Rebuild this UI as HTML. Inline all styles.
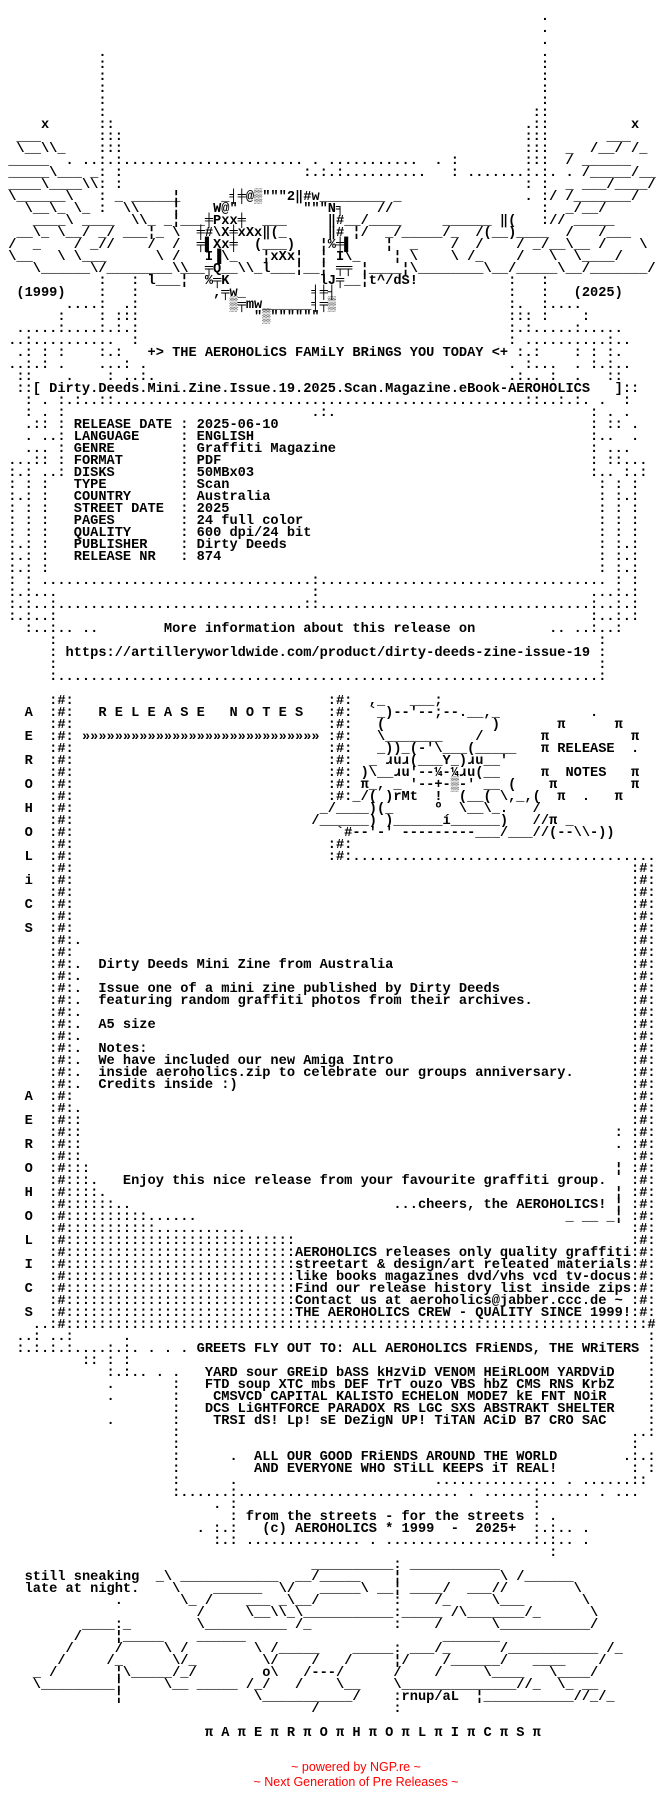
<!DOCTYPE html>
<html><head><meta charset="utf-8">
<style>
html,body{margin:0;padding:0;background:#fff;}
body{width:656px;height:1812px;overflow:hidden;position:relative;font-family:"Liberation Mono","DejaVu Sans Mono",monospace;font-size:13.67px;font-weight:bold;color:#000;}
p{margin:0;height:12px;line-height:12px;position:relative;}
b{position:absolute;top:0;white-space:pre;font-weight:bold;}
.red{position:absolute;left:0;width:712px;text-align:center;color:#f00;font-family:"Liberation Sans",sans-serif;font-weight:normal;font-size:12.5px;line-height:14px;white-space:pre;}
</style></head><body>
<p></p>
<p><b style="left:66ch">.</b></p>
<p><b style="left:66ch">.</b></p>
<p><b style="left:66ch">.</b></p>
<p><b style="left:12ch">.</b><b style="left:66ch">.</b></p>
<p><b style="left:12ch">:</b><b style="left:66ch">:</b></p>
<p><b style="left:12ch">:</b><b style="left:66ch">:</b></p>
<p><b style="left:12ch">:</b><b style="left:66ch">:</b></p>
<p><b style="left:12ch">:</b><b style="left:66ch">:</b></p>
<p><b style="left:12ch">:</b><b style="left:65ch">::</b></p>
<p><b style="left:5ch">x</b><b style="left:12ch">::</b><b style="left:64ch">.::</b><b style="left:77ch">x</b></p>
<p><b style="left:2ch">___</b><b style="left:12ch">:::</b><b style="left:64ch">:::</b><b style="left:74ch">___</b></p>
<p><b style="left:2ch">\__\\_</b><b style="left:12ch">:::</b><b style="left:64ch">:::</b><b style="left:69ch">_  /__/ /_</b></p>
<p><b style="left:1ch">_____</b><b style="left:8ch">. ..:.:...................... . ...........  . :</b><b style="left:64ch">:::</b><b style="left:69ch">/ ______</b></p>
<p><b style="left:1ch">_____\___ _</b><b style="left:12ch">:</b><b style="left:14ch">:</b><b style="left:37ch">:.:.:..........   : .......:.:. . /_____/___</b></p>
<p><b style="left:1ch">____\____\\</b><b style="left:12ch">:</b><b style="left:14ch">:</b><b style="left:64ch">:</b><b style="left:66ch">:</b><b style="left:69ch">_ ___/____/</b></p>
<p><b style="left:1ch">\______\</b><b style="left:12ch">:</b><b style="left:14ch">_ ______</b><b style="left:21ch">¦</b><b style="left:27ch">_╡╪@▒"""2‖#w________ _</b><b style="left:64ch">.</b><b style="left:66ch">:</b><b style="left:67ch">/ /</b><b style="left:70ch">_______/</b></p>
<p><b style="left:3ch">\__\_ \_</b><b style="left:12ch">:</b><b style="left:15ch">\\</b><b style="left:21ch">¦</b><b style="left:26ch">W@"</b><b style="left:37ch">"""N╕</b><b style="left:46ch">//</b><b style="left:66ch">:</b><b style="left:69ch">_/__/</b></p>
<p><b style="left:4ch">____</b><b style="left:8ch">\</b><b style="left:10ch">____</b><b style="left:16ch">\\_</b><b style="left:20ch">_¦___╪Pxx╪</b><b style="left:32ch">___</b><b style="left:40ch">‖#_</b><b style="left:43ch">_/____</b><b style="left:54ch">______</b><b style="left:61ch">‖(</b><b style="left:66ch">:</b><b style="left:67ch">//</b><b style="left:70ch">_____</b></p>
<p><b style="left:2ch">__\_</b><b style="left:7ch">\__/</b><b style="left:12ch">_/</b><b style="left:15ch">___¦_</b><b style="left:21ch">\</b><b style="left:24ch">╪#\X╪xXx‖(_</b><b style="left:40ch">‖#</b><b style="left:43ch">¦/</b><b style="left:47ch">_/_____/_</b><b style="left:58ch">/(__)____</b><b style="left:69ch">/</b><b style="left:73ch">/___</b></p>
<p><b style="left:1ch">/</b><b style="left:4ch">_</b><b style="left:9ch">/</b><b style="left:11ch">_//</b><b style="left:18ch">/</b><b style="left:21ch">/</b><b style="left:24ch">╤▌Xx╪</b><b style="left:31ch">(___)</b><b style="left:39ch">¦</b><b style="left:40ch">%╪▌</b><b style="left:47ch">¦</b><b style="left:50ch">_</b><b style="left:55ch">/</b><b style="left:58ch">/</b><b style="left:63ch">/ _/__\__</b><b style="left:73ch">/</b><b style="left:78ch">\</b></p>
<p><b style="left:1ch">\__</b><b style="left:7ch">\</b><b style="left:9ch">\___</b><b style="left:19ch">\ /</b><b style="left:25ch">I▐\_</b><b style="left:32ch">¦xXx¦</b><b style="left:39ch">¦</b><b style="left:41ch">I\_</b><b style="left:48ch">¦</b><b style="left:50ch">\</b><b style="left:55ch">\</b><b style="left:57ch">/_</b><b style="left:63ch">/</b><b style="left:67ch">\</b><b style="left:70ch">\____/</b></p>
<p><b style="left:4ch">\______\</b><b style="left:12ch">/________\\</b><b style="left:22ch">___╤Q__\\_l___¦__¦</b><b style="left:41ch">╤╤</b><b style="left:44ch">¦____¦\________\__/_____\__/_______/</b></p>
<p><b style="left:12ch">:</b><b style="left:16ch">:</b><b style="left:18ch">l___¦</b><b style="left:25ch">%╤K</b><b style="left:39ch">lJ╤__¦t^/dS!</b><b style="left:62ch">:</b><b style="left:66ch">:</b></p>
<p><b style="left:2ch">(1999)</b><b style="left:12ch">:</b><b style="left:16ch">:</b><b style="left:26ch">,╤w_</b><b style="left:38ch">╡╪┤</b><b style="left:62ch">:</b><b style="left:66ch">:</b><b style="left:70ch">(2025)</b></p>
<p><b style="left:8ch">....:</b><b style="left:15ch">.:</b><b style="left:28ch">▒╤mw______╡╤▒</b><b style="left:62ch">:.</b><b style="left:66ch">:....</b></p>
<p><b style="left:7ch">:</b><b style="left:12ch">:</b><b style="left:14ch">:::</b><b style="left:31ch">"▒""""""</b><b style="left:62ch">:::</b><b style="left:66ch">:</b><b style="left:71ch">:</b></p>
<p><b style="left:2ch">.....:....:.:.:</b><b style="left:62ch">:.:.....:.....</b></p>
<p><b style="left:1ch">..:..........  :</b><b style="left:62ch">: ..........:..</b></p>
<p><b style="left:2ch">.: : :    :.:</b><b style="left:18ch">+&gt; THE AEROHOLiCS FAMiLY BRiNGS YOU TODAY &lt;+</b><b style="left:63ch">:.:    : : :.</b></p>
<p><b style="left:1ch">..:.: .    ...: .</b><b style="left:62ch">. :...  . :.:..</b></p>
<p><b style="left:2ch">::    .    : ..:.</b><b style="left:62ch">.:.. :  .   ::</b></p>
<p><b style="left:2ch">::[ Dirty.Deeds.Mini.Zine.Issue.19.2025.Scan.Magazine.eBook-AEROHOLICS</b><b style="left:75ch">]::</b></p>
<p><b style="left:3ch">: . :.:..::..................................................::..:.:. .  :</b></p>
<p><b style="left:3ch">: . :</b><b style="left:38ch">.:.</b><b style="left:72ch">: . .</b></p>
<p><b style="left:3ch">.:: : RELEASE DATE : 2025-06-10</b><b style="left:72ch">: :: .</b></p>
<p><b style="left:3ch">. ..: LANGUAGE     : ENGLISH</b><b style="left:72ch">:..  .</b></p>
<p><b style="left:3ch">... : GENRE        : Graffiti Magazine</b><b style="left:72ch">: ...</b></p>
<p><b style="left:1ch">...:: : FORMAT       : PDF</b><b style="left:72ch">: ::...</b></p>
<p><b style="left:1ch">:.: ..: DISKS        : 50MBx03</b><b style="left:72ch">:.. :.:</b></p>
<p><b style="left:1ch">: : :   TYPE         : Scan</b><b style="left:73ch">: : :</b></p>
<p><b style="left:1ch">:.: :   COUNTRY      : Australia</b><b style="left:73ch">: :.:</b></p>
<p><b style="left:1ch">: : :   STREET DATE  : 2025</b><b style="left:73ch">: : :</b></p>
<p><b style="left:1ch">: : :   PAGES        : 24 full color</b><b style="left:73ch">: : :</b></p>
<p><b style="left:1ch">: : :   QUALITY      : 600 dpi/24 bit</b><b style="left:73ch">: : :</b></p>
<p><b style="left:1ch">:.: :   PUBLISHER    : Dirty Deeds</b><b style="left:73ch">: :.:</b></p>
<p><b style="left:1ch">:.: :   RELEASE NR   : 874</b><b style="left:73ch">: :.:</b></p>
<p><b style="left:1ch">:.: :</b><b style="left:73ch">: :.:</b></p>
<p><b style="left:1ch">: :</b><b style="left:5ch">.................................:...................................</b><b style="left:75ch">: :</b></p>
<p><b style="left:1ch">:.:...</b><b style="left:38ch">:</b><b style="left:72ch">...:.:</b></p>
<p><b style="left:1ch">:.:..:..............................::.................................:..:.:</b></p>
<p><b style="left:1ch">:.:..:</b><b style="left:72ch">:..:.:</b></p>
<p><b style="left:3ch">:..:.. ..</b><b style="left:20ch">More information about this release on</b><b style="left:67ch">.. ..:..:</b></p>
<p><b style="left:6ch">:</b><b style="left:73ch">:</b></p>
<p><b style="left:6ch">: https://artilleryworldwide.com/product/dirty-deeds-zine-issue-19 :</b></p>
<p><b style="left:6ch">:</b><b style="left:73ch">:</b></p>
<p><b style="left:6ch">:..................................................................:</b></p>
<p></p>
<p><b style="left:6ch">:#:</b><b style="left:40ch">:#:</b><b style="left:45ch">,_</b><b style="left:50ch">___;</b></p>
<p><b style="left:3ch">A</b><b style="left:6ch">:#:</b><b style="left:12ch">R E L E A S E   N O T E S</b><b style="left:40ch">:#:</b><b style="left:45ch">`_)--'--;--.__,_</b><b style="left:72ch">.</b></p>
<p><b style="left:6ch">:#:</b><b style="left:40ch">:#:</b><b style="left:46ch">(</b><b style="left:60ch">)</b><b style="left:68ch">π</b><b style="left:75ch">π</b></p>
<p><b style="left:3ch">E</b><b style="left:6ch">:#:</b><b style="left:10ch">»»»»»»»»»»»»»»»»»»»»»»»»»»»»»</b><b style="left:40ch">:#:</b><b style="left:46ch">\_______    /</b><b style="left:66ch">π</b><b style="left:77ch">π</b></p>
<p><b style="left:6ch">:#:</b><b style="left:40ch">:#:</b><b style="left:46ch">_))_(-'\___(_____</b><b style="left:66ch">π</b><b style="left:68ch">RELEASE</b><b style="left:77ch">.</b></p>
<p><b style="left:3ch">R</b><b style="left:6ch">:#:</b><b style="left:40ch">:#:</b><b style="left:45ch">_</b><b style="left:47ch">ɹuɹ(___Y_)ɹu__'</b></p>
<p><b style="left:6ch">:#:</b><b style="left:40ch">:#:</b><b style="left:44ch">)\__ɹu'--¼-¼ɹu(__</b><b style="left:66ch">π</b><b style="left:69ch">NOTES</b><b style="left:77ch">π</b></p>
<p><b style="left:3ch">O</b><b style="left:6ch">:#:</b><b style="left:40ch">:#:</b><b style="left:44ch">π_, _ '--+-▒-' __ (</b><b style="left:67ch">π</b><b style="left:77ch">π</b></p>
<p><b style="left:6ch">:#:</b><b style="left:40ch">:#:_/</b><b style="left:45ch">( )rMt</b><b style="left:53ch">!</b><b style="left:56ch">(__(</b><b style="left:61ch">\,_,(</b><b style="left:68ch">π</b><b style="left:71ch">.</b><b style="left:75ch">π</b></p>
<p><b style="left:3ch">H</b><b style="left:6ch">:#:</b><b style="left:39ch">_/____)(_</b><b style="left:53ch">º</b><b style="left:56ch">\__\_.</b><b style="left:65ch">/</b></p>
<p><b style="left:6ch">:#:</b><b style="left:38ch">/______) )______í______)   //π _</b></p>
<p><b style="left:3ch">O</b><b style="left:6ch">:#:</b><b style="left:41ch">`#--'-' ---------___/___//(--\\-))</b></p>
<p><b style="left:6ch">:#:</b><b style="left:40ch">:#:</b></p>
<p><b style="left:3ch">L</b><b style="left:6ch">:#:</b><b style="left:40ch">:#:.....................................</b></p>
<p><b style="left:6ch">:#:</b><b style="left:77ch">:#:</b></p>
<p><b style="left:3ch">i</b><b style="left:6ch">:#:</b><b style="left:77ch">:#:</b></p>
<p><b style="left:6ch">:#:</b><b style="left:77ch">:#:</b></p>
<p><b style="left:3ch">C</b><b style="left:6ch">:#:</b><b style="left:77ch">:#:</b></p>
<p><b style="left:6ch">:#:</b><b style="left:77ch">:#:</b></p>
<p><b style="left:3ch">S</b><b style="left:6ch">:#:</b><b style="left:77ch">:#:</b></p>
<p><b style="left:6ch">:#:.</b><b style="left:77ch">:#:</b></p>
<p><b style="left:6ch">:#:</b><b style="left:77ch">:#:</b></p>
<p><b style="left:6ch">:#:.  Dirty Deeds Mini Zine from Australia</b><b style="left:77ch">:#:</b></p>
<p><b style="left:6ch">:#:.</b><b style="left:77ch">:#:</b></p>
<p><b style="left:6ch">:#:.  Issue one of a mini zine published by Dirty Deeds</b><b style="left:77ch">:#:</b></p>
<p><b style="left:6ch">:#:.  featuring random graffiti photos from their archives.</b><b style="left:77ch">:#:</b></p>
<p><b style="left:6ch">:#:.</b><b style="left:77ch">:#:</b></p>
<p><b style="left:6ch">:#:.  A5 size</b><b style="left:77ch">:#:</b></p>
<p><b style="left:6ch">:#:.</b><b style="left:77ch">:#:</b></p>
<p><b style="left:6ch">:#:.  Notes:</b><b style="left:77ch">:#:</b></p>
<p><b style="left:6ch">:#:.  We have included our new Amiga Intro</b><b style="left:77ch">:#:</b></p>
<p><b style="left:6ch">:#:.  inside aeroholics.zip to celebrate our groups anniversary.</b><b style="left:77ch">:#:</b></p>
<p><b style="left:6ch">:#:.  Credits inside :)</b><b style="left:77ch">:#:</b></p>
<p><b style="left:3ch">A</b><b style="left:6ch">:#:</b><b style="left:77ch">:#:</b></p>
<p><b style="left:6ch">:#:.</b><b style="left:77ch">:#:</b></p>
<p><b style="left:3ch">E</b><b style="left:6ch">:#::</b><b style="left:77ch">:#:</b></p>
<p><b style="left:6ch">:#::</b><b style="left:75ch">:</b><b style="left:77ch">:#:</b></p>
<p><b style="left:3ch">R</b><b style="left:6ch">:#::</b><b style="left:75ch">.</b><b style="left:77ch">:#:</b></p>
<p><b style="left:6ch">:#::</b><b style="left:77ch">:#:</b></p>
<p><b style="left:3ch">O</b><b style="left:6ch">:#:::</b><b style="left:75ch">¦</b><b style="left:77ch">:#:</b></p>
<p><b style="left:6ch">:#:::.   Enjoy this nice release from your favourite graffiti group.</b><b style="left:77ch">:#:</b></p>
<p><b style="left:3ch">H</b><b style="left:6ch">:#::::.</b><b style="left:75ch">¦</b><b style="left:77ch">:#:</b></p>
<p><b style="left:6ch">:#::::::..</b><b style="left:48ch">...cheers, the AEROHOLICS!</b><b style="left:75ch">¦</b><b style="left:77ch">:#:</b></p>
<p><b style="left:3ch">O</b><b style="left:6ch">:#::::::::::......</b><b style="left:69ch">_ __ _¦</b><b style="left:77ch">:#:</b></p>
<p><b style="left:6ch">:#:::::::::::...........</b><b style="left:77ch">:#:</b></p>
<p><b style="left:3ch">L</b><b style="left:6ch">:#::::::::::::::::::::::::::::</b><b style="left:77ch">:#:</b></p>
<p><b style="left:6ch">:#::::::::::::::::::::::::::::</b><b style="left:36ch">AEROHOLICS releases only quality graffiti</b><b style="left:77ch">:#:</b></p>
<p><b style="left:3ch">I</b><b style="left:6ch">:#::::::::::::::::::::::::::::</b><b style="left:36ch">streetart &amp; design/art releated materials</b><b style="left:77ch">:#:</b></p>
<p><b style="left:6ch">:#::::::::::::::::::::::::::::</b><b style="left:36ch">like books magazines dvd/vhs vcd tv-docus</b><b style="left:77ch">:#:</b></p>
<p><b style="left:3ch">C</b><b style="left:6ch">:#::::::::::::::::::::::::::::</b><b style="left:36ch">Find our release history list inside zips</b><b style="left:77ch">:#:</b></p>
<p><b style="left:6ch">:#::::::::::::::::::::::::::::</b><b style="left:36ch">Contact us at aeroholics@jabber.ccc.de ~ </b><b style="left:77ch">:#:</b></p>
<p><b style="left:3ch">S</b><b style="left:6ch">:#::::::::::::::::::::::::::::</b><b style="left:36ch">THE AEROHOLICS CREW - QUALITY SINCE 1999!</b><b style="left:77ch">:#:</b></p>
<p><b style="left:4ch">..:#:::::::::::::::::::::::::::::::::::::::::::::::::::::::::::::::::::::::#:</b></p>
<p><b style="left:2ch">..:</b><b style="left:6ch">..:</b><b style="left:15ch">.</b><b style="left:79ch">:</b></p>
<p><b style="left:2ch">:.:.:.:....:.:</b><b style="left:16ch">. . . .</b><b style="left:24ch">GREETS FLY OUT TO: ALL AEROHOLICS FRiENDS, THE WRiTERS</b><b style="left:79ch">:</b></p>
<p><b style="left:10ch">::</b><b style="left:13ch">:</b><b style="left:15ch">:</b><b style="left:79ch">:</b></p>
<p><b style="left:13ch">:.:.. . .</b><b style="left:25ch">YARD sour GREiD bASS kHzViD VENOM HEiRLOOM YARDViD</b><b style="left:79ch">:</b></p>
<p><b style="left:13ch">.</b><b style="left:21ch">:</b><b style="left:25ch">FTD soup XTC mbs DEF TrT ouzo VBS hbZ CMS RNS KrbZ</b><b style="left:79ch">:</b></p>
<p><b style="left:13ch">.</b><b style="left:21ch">:</b><b style="left:26ch">CMSVCD CAPITAL KALISTO ECHELON MODE7 kE FNT NOiR</b><b style="left:79ch">:</b></p>
<p><b style="left:21ch">:</b><b style="left:25ch">DCS LiGHTFORCE PARADOX RS LGC SXS ABSTRAKT SHELTER</b><b style="left:79ch">:</b></p>
<p><b style="left:13ch">.</b><b style="left:21ch">:</b><b style="left:26ch">TRSI dS! Lp! sE DeZigN UP! TiTAN ACiD B7 CRO SAC</b><b style="left:79ch">:</b></p>
<p><b style="left:21ch">:</b><b style="left:77ch">..:</b></p>
<p><b style="left:21ch">:</b><b style="left:77ch">:</b></p>
<p><b style="left:21ch">:</b><b style="left:28ch">.</b><b style="left:31ch">ALL OUR GOOD FRiENDS AROUND THE WORLD</b><b style="left:76ch">.:.:</b></p>
<p><b style="left:21ch">:</b><b style="left:31ch">AND EVERYONE WHO STiLL KEEPS iT REAL!</b><b style="left:77ch">: :</b></p>
<p><b style="left:21ch">:</b><b style="left:28ch">.</b><b style="left:53ch">............... . ......::</b></p>
<p><b style="left:21ch">:......:........................... . ......:...... . ...</b></p>
<p><b style="left:26ch">. :</b><b style="left:65ch">:</b></p>
<p><b style="left:28ch">:</b><b style="left:30ch">from the streets - for the streets</b><b style="left:65ch">: .</b></p>
<p><b style="left:24ch">. :.:</b><b style="left:32ch">(c) AEROHOLICS * 1999  -  2025+</b><b style="left:65ch">:.:.. .</b></p>
<p><b style="left:26ch">:.: .............. . ..................:.:.. .</b></p>
<p><b style="left:67ch">:</b></p>
<p><b style="left:38ch">__________:</b><b style="left:50ch">___________</b></p>
<p><b style="left:3ch">still sneaking</b><b style="left:19ch">_\ ____________  __/_____</b><b style="left:48ch">¦</b><b style="left:61ch">\ /______</b></p>
<p><b style="left:3ch">late at night.</b><b style="left:21ch">\</b><b style="left:26ch">______</b><b style="left:34ch">\/</b><b style="left:39ch">_____\ __¦ ____/</b><b style="left:57ch">___//</b><b style="left:70ch">\</b></p>
<p><b style="left:14ch">.</b><b style="left:22ch">\_ /</b><b style="left:30ch">___ _\__/</b><b style="left:48ch">:</b><b style="left:53ch">/_</b><b style="left:60ch">\___</b><b style="left:71ch">\</b></p>
<p><b style="left:24ch">/</b><b style="left:30ch">\__\\_\___________:_____ /\_______/_</b><b style="left:72ch">\</b></p>
<p><b style="left:10ch">____:_</b><b style="left:24ch">\__________</b><b style="left:36ch">/_</b><b style="left:48ch">:</b><b style="left:53ch">/</b><b style="left:60ch">\___________/</b></p>
<p><b style="left:9ch">/</b><b style="left:14ch">¦_____</b><b style="left:24ch">______</b><b style="left:54ch">_______</b></p>
<p><b style="left:8ch">/</b><b style="left:14ch">/</b><b style="left:20ch">\ /</b><b style="left:31ch">\ /_____</b><b style="left:43ch">_____:</b><b style="left:50ch">___/_</b><b style="left:61ch">/___________ /_</b></p>
<p><b style="left:7ch">/</b><b style="left:13ch">/_</b><b style="left:21ch">\/_</b><b style="left:32ch">\/</b><b style="left:38ch">/</b><b style="left:42ch">/</b><b style="left:48ch">¦/</b><b style="left:54ch">/______/</b><b style="left:65ch">____</b><b style="left:73ch">/</b></p>
<p><b style="left:4ch">_ /</b><b style="left:14ch">¦\_____</b><b style="left:21ch">/_/</b><b style="left:32ch">o\</b><b style="left:37ch">/---/</b><b style="left:48ch">/</b><b style="left:53ch">/</b><b style="left:59ch">\____</b><b style="left:67ch">\____/</b></p>
<p><b style="left:4ch">\_________¦</b><b style="left:20ch">\__ _____ /_/</b><b style="left:36ch">/</b><b style="left:41ch">\__</b><b style="left:48ch">\______________//_</b><b style="left:68ch">\_ __</b></p>
<p><b style="left:14ch">¦</b><b style="left:31ch">\___________/</b><b style="left:48ch">:rnup/aL</b><b style="left:58ch">¦___________//_/_</b></p>
<p><b style="left:38ch">/</b><b style="left:48ch">:</b></p>
<p></p>
<p><b style="left:25ch">π A π E π R π O π H π O π L π I π C π S π</b></p>
<div class="red" style="top:1760px">~ powered by NGP.re ~</div>
<div class="red" style="top:1775px">~ Next Generation of Pre Releases ~</div>
</body></html>
